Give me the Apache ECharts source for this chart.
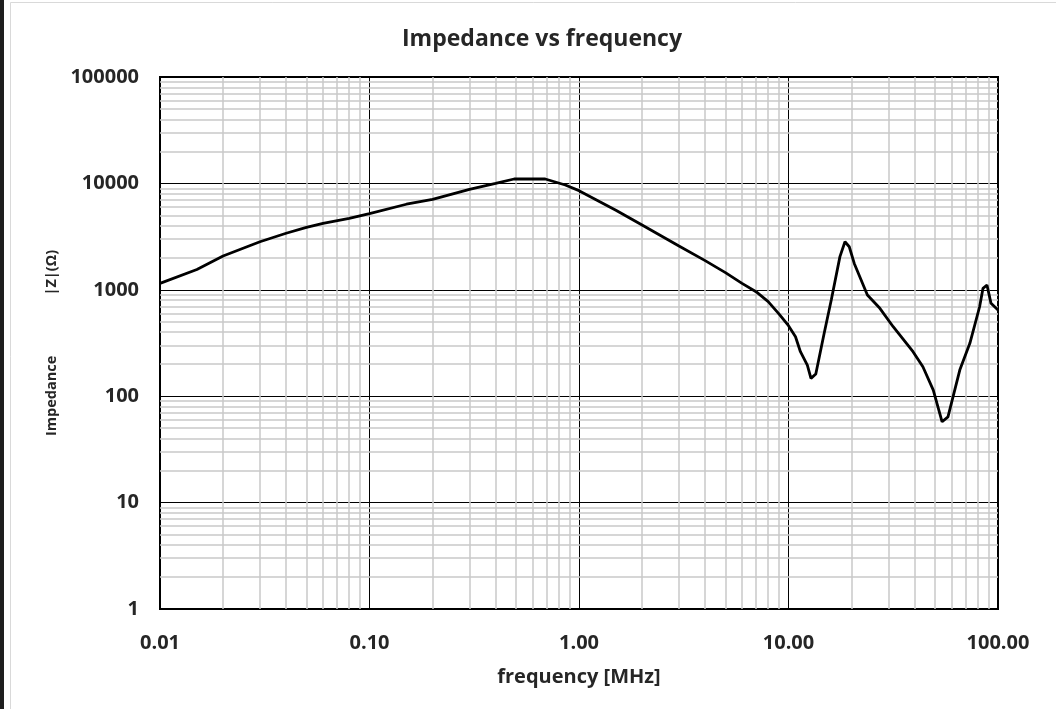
<!DOCTYPE html>
<html>
<head>
<meta charset="utf-8">
<script src="https://cdn.jsdelivr.net/npm/echarts@6/dist/echarts.min.js"></script>
<style>
html,body{margin:0;padding:0;background:#fff;}
#chart{width:1056px;height:709px;}
</style>
</head>
<body>
<div id="chart"></div>
<script>
// Frequency (MHz) and impedance |Z| (Ohm)
const freqMHz = [0.01, 0.015, 0.02, 0.03, 0.04, 0.05, 0.06, 0.08, 0.1, 0.15, 0.2, 0.3, 0.4, 0.49, 0.69, 0.86, 1.0, 1.5, 2, 3, 4, 5, 6, 7, 8, 9, 10, 10.8, 11.4, 12.3, 12.8, 13.5, 14.8, 16.0, 17.6, 18.6, 19.5, 20.6, 23.8, 27.3, 31.6, 39.3, 43.8, 49.1, 54.1, 57.7, 65.7, 73.4, 81.7, 84.8, 88.6, 92.6, 100];
const impedance = [1150, 1550, 2080, 2830, 3400, 3860, 4220, 4700, 5200, 6370, 7090, 8790, 10000, 11000, 11000, 9660, 8550, 5600, 4060, 2580, 1880, 1450, 1150, 960, 774, 593, 460, 362, 262, 196, 147, 162, 390, 802, 2050, 2830, 2540, 1770, 894, 670, 450, 262, 189, 114, 57.5, 64, 176, 314, 693, 1033, 1110, 746, 646];
const xTickLabels = ['0.01', '0.10', '1.00', '10.00', '100.00'];
const yTickLabels = ['1', '10', '100', '1000', '10000', '100000'];

const FONT = '"Open Sans", "Noto Sans", sans-serif';
const TXT = '#262626';

// minor grid lines at 2..9 of each decade
const minorLines = [];
for (let d = -2; d < 2; d++) {
  for (let k = 2; k <= 9; k++) minorLines.push({ xAxis: k * Math.pow(10, d) });
}
for (let d = 0; d < 5; d++) {
  for (let k = 2; k <= 9; k++) minorLines.push({ yAxis: k * Math.pow(10, d) });
}

const chart = echarts.init(document.getElementById('chart'), null, { renderer: 'canvas' });
chart.setOption({
  animation: false,
  backgroundColor: '#fff',
  title: {
    text: 'Impedance vs frequency',
    left: 397, top: 23,
    textStyle: { fontFamily: FONT, fontWeight: 'bold', fontSize: 23, color: TXT }
  },
  graphic: [
    { type: 'rect', shape: { x: 0, y: 0, width: 4, height: 709 }, style: { fill: '#1e1e1e' } },
    { type: 'rect', shape: { x: 10.5, y: 2.5, width: 1050, height: 710 }, style: { fill: 'none', stroke: '#d9d9d9', lineWidth: 1 } }
  ],
  grid: { left: 160, right: 58, top: 77, bottom: 100, show: true, borderColor: '#000', borderWidth: 2, backgroundColor: 'transparent' },
  xAxis: {
    type: 'log', logBase: 10, min: 0.01, max: 100,
    name: 'frequency [MHz]', nameLocation: 'middle', nameGap: 58,
    nameTextStyle: { fontFamily: FONT, fontWeight: 'bold', fontSize: 20, color: TXT },
    axisLine: { show: false }, axisTick: { show: false },
    axisLabel: {
      margin: 24, fontFamily: FONT, fontWeight: 'bold', fontSize: 20, color: TXT,
      formatter: v => xTickLabels[Math.round(Math.log10(v)) + 2]
    },
    splitLine: { show: true, lineStyle: { color: '#000', width: 1 } }
  },
  yAxis: {
    type: 'log', logBase: 10, min: 1, max: 100000,
    name: 'Impedance                |Z|(Ω)', nameLocation: 'middle', nameGap: 89, nameRotate: 90,
    nameTextStyle: { fontFamily: FONT, fontWeight: 'bold', fontSize: 14.5, color: TXT },
    axisLine: { show: false }, axisTick: { show: false },
    axisLabel: {
      margin: 21, fontFamily: FONT, fontWeight: 'bold', fontSize: 20, color: TXT,
      formatter: v => yTickLabels[Math.round(Math.log10(v))]
    },
    splitLine: { show: true, lineStyle: { color: '#000', width: 1 } }
  },
  series: [
    {
      type: 'line', z: 1, silent: true,
      data: [[0.01, 1]], showSymbol: false, lineStyle: { opacity: 0 },
      markLine: {
        silent: true, symbol: ['none', 'none'], label: { show: false },
        lineStyle: { color: '#c8c8c8', type: 'solid', width: 1.5 },
        emphasis: { disabled: true },
        data: minorLines
      }
    },
    {
      type: 'line', z: 5,
      data: freqMHz.map((f, i) => [f, impedance[i]]),
      showSymbol: false, smooth: false,
      lineStyle: { color: '#000', width: 2.8 }
    }
  ]
});
</script>
</body>
</html>
